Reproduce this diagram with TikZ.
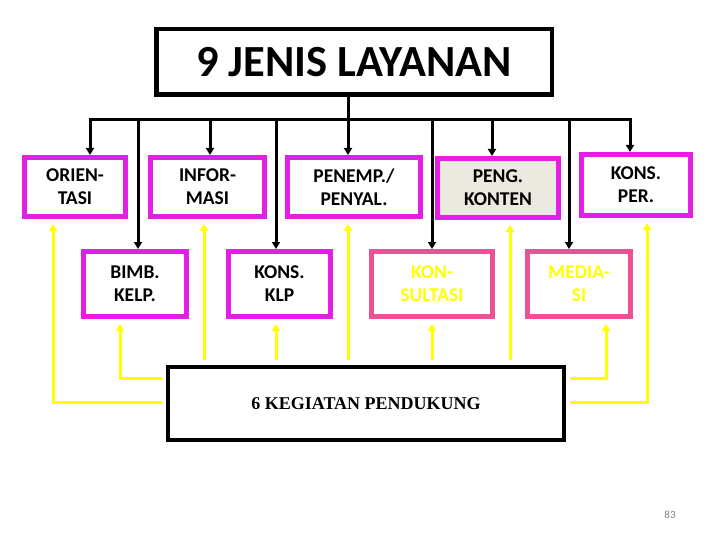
\documentclass[tikz,border=0pt]{standalone}
\usepackage{fontspec}
\setmainfont{Carlito}
\newfontfamily\serifbold{Liberation Serif}
\usetikzlibrary{arrows.meta}
\definecolor{mag}{RGB}{228,30,228}
\definecolor{pinkb}{RGB}{238,80,150}
\definecolor{yel}{RGB}{255,255,0}
\definecolor{beige}{RGB}{236,233,224}
\tikzset{
  x=1pt,y=-1pt,
  svc/.style={draw=mag,line width=5pt,fill=white,inner sep=0pt,align=center,
    font=\fontsize{19.5}{23}\selectfont\bfseries},
  svcp/.style={svc,draw=pinkb,text=yel},
  blk/.style={line width=3pt,black},
  blkarr/.style={blk,-{Triangle[width=8pt,length=7pt]}},
  yl/.style={line width=3pt,yel,-{Triangle[width=8pt,length=7pt]}},
}
\begin{document}
\begin{tikzpicture}
\useasboundingbox (0,0) rectangle (720,540);
% title
\node[draw,line width=4.5pt,minimum width=395.5pt,minimum height=65.5pt,inner sep=0pt,
  font=\fontsize{44.5}{48}\selectfont\bfseries] (T) at (354,62) {9 JENIS LAYANAN};
% top row
\node[svc,minimum width=101pt,minimum height=59pt] (ori) at (75,187) {ORIEN-\\TASI};
\node[svc,minimum width=114pt,minimum height=59pt] (inf) at (207.5,187) {INFOR-\\MASI};
\node[svc,minimum width=133pt,minimum height=59pt] (pen) at (354,187) {PENEMP./\\PENYAL.};
\node[svc,fill=beige,minimum width=121pt,minimum height=59pt] (peng) at (498,188) {PENG.\\KONTEN};
\node[svc,minimum width=109pt,minimum height=61pt] (kper) at (636,185) {KONS.\\PER.};
% second row
\node[svc,minimum width=103pt,minimum height=65pt] (bimb) at (135,284) {BIMB.\\KELP.};
\node[svc,minimum width=102pt,minimum height=65pt] (kklp) at (279.5,284) {KONS.\\KLP};
\node[svcp,minimum width=121pt,minimum height=65pt] (kons) at (432,284) {KON-\\SULTASI};
\node[svcp,minimum width=103pt,minimum height=65pt] (med) at (579,284) {MEDIA-\\SI};
% bottom box
\node[draw,line width=4pt,minimum width=396pt,minimum height=73pt,inner sep=0pt,
  font=\serifbold\fontsize{18}{21}\selectfont\bfseries] (bot) at (366,403.5) {6 KEGIATAN PENDUKUNG};
% page number
\node[text=gray,font=\fontsize{11}{13}\selectfont] (pg) at (670,515) {83};
% black tree
\coordinate (bL) at (90,120);
\coordinate (bR) at (630,120);
\coordinate (b2) at (210,120);
\coordinate (b3) at (348,120);
\coordinate (b4) at (492,120);
\coordinate (c1) at (138,120);
\coordinate (c2) at (276,120);
\coordinate (c3) at (432,120);
\coordinate (c4) at (569,120);
\draw[blk,line cap=rect] (bL) -- (bR);
\draw[blkarr] (T.south -| b3) -- (b3 |- pen.north);
\draw[blkarr] (bL) -- (bL |- ori.north);
\draw[blkarr] (b2) -- (b2 |- inf.north);
\draw[blkarr] (b4) -- (b4 |- peng.north);
\draw[blkarr] (bR) -- (bR |- kper.north);
\draw[blkarr] (c1) -- (c1 |- bimb.north);
\draw[blkarr] (c2) -- (c2 |- kklp.north);
\draw[blkarr] (c3) -- (c3 |- kons.north);
\draw[blkarr] (c4) -- (c4 |- med.north);
% yellow connectors
\coordinate (yl1) at (53,402);
\coordinate (yl2) at (120,378);
\coordinate (yr1) at (606,378);
\coordinate (yr2) at (647,402);
\draw[yl,shorten >=5pt] ([xshift=-4pt]bot.west |- yl1) -- (yl1) -- (yl1 |- ori.south);
\draw[yl,shorten >=5pt] ([xshift=-4pt]bot.west |- yl2) -- (yl2) -- (yl2 |- bimb.south);
\draw[yl,shorten >=5pt] ([xshift=4pt]bot.east |- yr1) -- (yr1) -- (yr1 |- med.south);
\draw[yl,shorten >=5pt] ([xshift=4pt]bot.east |- yr2) -- (yr2) -- (yr2 |- kper.south);
\coordinate (v1) at (204,360);
\coordinate (v2) at (276,360);
\coordinate (v3) at (348,360);
\coordinate (v4) at (432,360);
\coordinate (v5) at (510,360);
\draw[yl,shorten >=5pt] (v1) -- (v1 |- inf.south);
\draw[yl,shorten >=5pt] (v2) -- (v2 |- kklp.south);
\draw[yl,shorten >=5pt] (v3) -- (v3 |- pen.south);
\draw[yl,shorten >=5pt] (v4) -- (v4 |- kons.south);
\draw[yl,shorten >=5pt] (v5) -- (v5 |- peng.south);
\end{tikzpicture}
\end{document}
